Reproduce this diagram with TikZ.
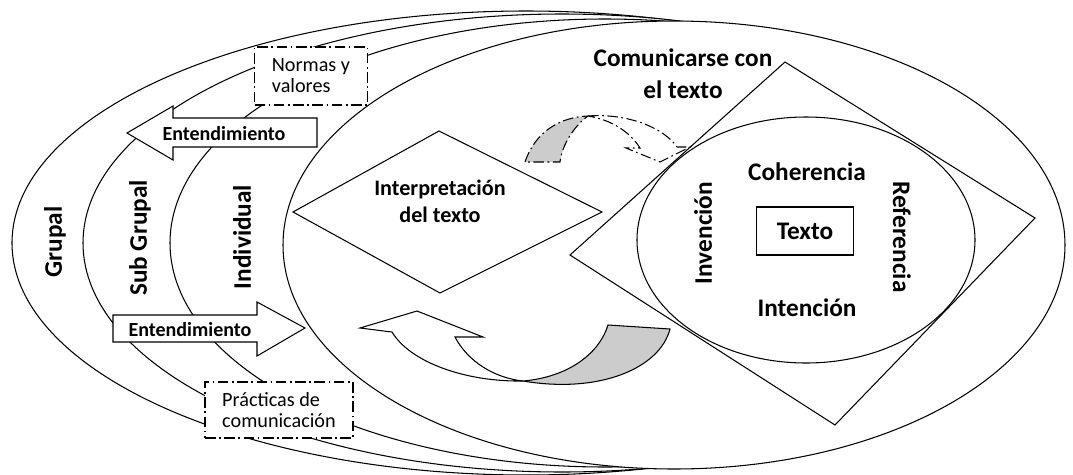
\documentclass[tikz,border=0pt]{standalone}
\usepackage{fontspec}
\setmainfont{Carlito}
\usetikzlibrary{shapes}

\begin{document}
\begin{tikzpicture}[x=0.02cm,y=-0.02cm]
\tikzstyle{ring}=[draw, fill=white, line width=0.6pt]
\tikzstyle{plate}=[draw, fill=white, line width=0.6pt, line join=miter]
\tikzstyle{backface}=[plate, fill=gray!40]
\tikzstyle{dotdash}=[dash pattern=on 6pt off 2pt on 1pt off 2pt]
\tikzstyle{note}=[plate, dotdash, align=left, inner sep=0pt, font=\fontsize{11.5}{12}\selectfont]
\tikzstyle{lbl}=[inner sep=0pt, align=center, font=\bfseries\fontsize{14.4}{18}\selectfont]
\tikzstyle{word}=[inner sep=0pt, font=\bfseries\fontsize{11.4}{13}\selectfont]
\useasboundingbox (0,0) rectangle (1073,474);
\draw[ring] (526,243) ellipse [x radius=514, y radius=232];
\draw[ring] (562,243) ellipse [x radius=479, y radius=229];
\draw[ring] (605,243) ellipse [x radius=435, y radius=224];
\draw[plate] (317,118) -- (173,118) -- (173,106) -- (127,133) -- (173,160) -- (173,147) -- (317,147) -- cycle;
\draw[plate] (113,315) -- (257,315) -- (257,302) -- (305,328) -- (257,356) -- (257,342) -- (113,342) -- cycle;
\node[note, minimum width=2.26cm, minimum height=1.16cm] (normas) at (311,76) {Normas y\\valores};
\node[note, minimum width=2.96cm, minimum height=1.12cm] (practicas) at (279,410) {Prácticas de\\comunicación};
\draw[ring] (674,245) ellipse [x radius=391, y radius=224];
\draw[plate] (293,212) -- (439,131) -- (602,212) -- (440,293) -- cycle;
\draw[plate, fill=none] (785,62) -- (1035,218) -- (835,425) -- (570,255) -- cycle;
\draw[ring, fill=none] (806,240) ellipse [x radius=169, y radius=123];
\draw[backface] (523,381) .. controls (570,377) and (600,352) .. (608,325) -- (670,329) .. controls (660,368) and (600,394) .. (523,381) -- cycle;
\draw[plate] (360,328) -- (417,311) -- (483,337) -- (455,337) .. controls (468,362) and (495,378) .. (523,381) .. controls (465,382) and (410,362) .. (392,332) -- cycle;
\draw[backface, dotdash] (525,162) .. controls (535,132) and (560,117) .. (588,116) .. controls (574,126) and (562,145) .. (560,162) -- cycle;
\draw[plate, dotdash] (588,116) .. controls (628,113) and (664,128) .. (677,147) -- (690,147) -- (660,162) -- (626,148) -- (640,148) .. controls (630,132) and (612,120) .. (588,116) -- cycle;
\node[lbl, rotate=90] (grupal) at (55,242) {Grupal};
\node[lbl, rotate=90] (subgrupal) at (140,238) {Sub Grupal};
\node[lbl, rotate=90] (individual) at (242,237) {Individual};
\node[word] (entA) at (224,134) {Entendimiento};
\node[word] (entB) at (190,330) {Entendimiento};
\node[lbl, font=\bfseries\fontsize{12.6}{15.5}\selectfont] (interp) at (440,201) {Interpretación\\del texto};
\node[lbl] (comunica) at (683,74) {Comunicarse con\\el texto};
\node[lbl] (coherencia) at (807,172) {Coherencia};
\node[lbl] (intencion) at (807,308) {Intención};
\node[lbl, rotate=90] (invencion) at (703,233) {Invención};
\node[lbl, rotate=-90] (referencia) at (902,237) {Referencia};
\node[lbl, draw, line width=0.6pt, minimum width=1.94cm, minimum height=0.96cm] (texto) at (805,231) {Texto};
\end{tikzpicture}
\end{document}
